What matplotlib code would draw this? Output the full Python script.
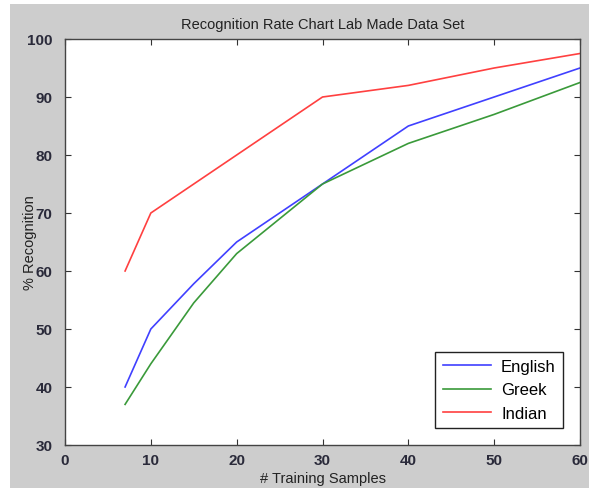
import matplotlib
matplotlib.use("Agg")
import matplotlib.pyplot as plt
from matplotlib.patches import Rectangle

samples = [7, 10, 15, 20, 30, 40, 50, 60]
english = [40, 50, 57.8, 65, 75, 85, 90, 95]
greek = [37, 44, 54.5, 63, 75, 82, 87, 92.5]
indian = [60, 70, 75, 80, 90, 92, 95, 97.5]
labels = ["English", "Greek", "Indian"]

plt.rcParams['font.family'] = ['Liberation Sans', 'DejaVu Sans']

fig = plt.figure(figsize=(5.89, 4.89), dpi=100, facecolor='white')
# gray MATLAB-like figure panel, kept behind the axes
fig.patches.append(Rectangle((10 / 589, 0), 1 - 10 / 589, 1 - 5 / 489,
                             transform=fig.transFigure, facecolor='#cdcdcd',
                             edgecolor='none', zorder=-10))

ax = fig.add_axes([65 / 589, (489 - 446) / 489, 515 / 589, 406 / 489])
ax.set_zorder(1)
ax.plot(samples, english, color='#4040ff', lw=1.2, label=labels[0])
ax.plot(samples, greek, color='#3a9a3a', lw=1.2, label=labels[1])
ax.plot(samples, indian, color='#ff4040', lw=1.2, label=labels[2])

ax.set_xlim(0, 60)
ax.set_ylim(30, 100)
ax.set_xticks(range(0, 61, 10))
ax.set_yticks(range(30, 101, 10))
ax.tick_params(direction='in', top=True, right=True, length=4,
               labelsize=11, colors='#333333', labelcolor='#2a2a3a')
ax.tick_params(axis='y', pad=9)
ax.tick_params(axis='x', pad=6)
for lab in ax.get_xticklabels() + ax.get_yticklabels():
    lab.set_fontweight('bold')
for s in ax.spines.values():
    s.set_color('#444444')
    s.set_linewidth(1.0)

ax.set_title("Recognition Rate Chart Lab Made Data Set", fontsize=10.5, color='#222222', pad=8)
ax.set_xlabel("# Training Samples", fontsize=10.5, color='#222222')
ax.set_ylabel("% Recognition", fontsize=10.5, color='#222222')
ax.xaxis.set_label_coords(0.5, -0.064)
ax.yaxis.set_label_coords(-0.054, 0.5)

leg = ax.legend(loc='lower right', fontsize=12, fancybox=False, framealpha=1,
                edgecolor='#222222', borderaxespad=1.0, handlelength=2.9,
                handletextpad=0.6, labelspacing=0.5, borderpad=0.45)
leg.get_frame().set_linewidth(1.0)

fig.savefig("out.png", dpi=100, facecolor=fig.get_facecolor())
